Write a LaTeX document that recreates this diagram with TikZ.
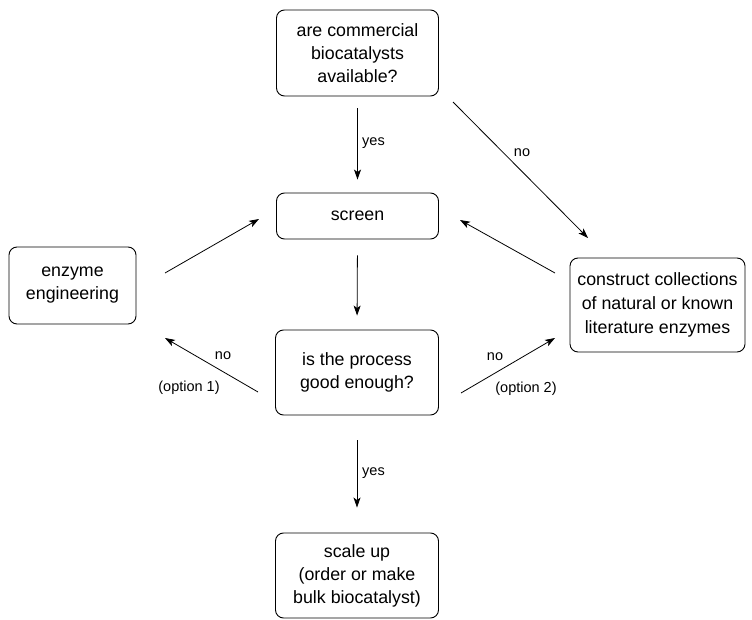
\documentclass[tikz,border=0pt]{standalone}
\usepackage{fontspec}
\setmainfont{Liberation Sans}
\usetikzlibrary{arrows.meta}
\begin{document}
\begin{tikzpicture}[x=1pt,y=-1pt,
  box/.style={draw, rounded corners=8pt, line width=0.9pt, align=center, inner sep=0pt,
    font=\fontsize{17.8}{23}\selectfont},
  arr/.style={line width=0.8pt, -{Stealth[length=10pt,width=7pt,inset=2.5pt]}},
  lbl/.style={font=\fontsize{14.5}{17}\selectfont, inner sep=0pt}]
\useasboundingbox (0,0) rectangle (752,620);
\node[box, minimum width=162pt, minimum height=86pt] (top) at (357.5,53) {are commercial\\biocatalysts\\available?};
\node[box, minimum width=162pt, minimum height=46pt] (screen) at (357.5,216) {screen};
\node[box, minimum width=127pt, minimum height=77pt] (enz) at (72.5,285.5) {enzyme\\engineering};
\node[box, minimum width=175pt, minimum height=94pt, font=\fontsize{17.8}{24}\selectfont] (coll) at (657.5,305) {construct collections\\of natural or known\\literature enzymes};
\node[box, minimum width=163pt, minimum height=85pt] (proc) at (357,372.5) {is the process\\good enough?};
\node[box, minimum width=163pt, minimum height=85pt] (scale) at (357,575.5) {scale up\\(order or make\\bulk biocatalyst)};
% free ends of the diagonal connectors
\coordinate (noS) at (453,102);
\coordinate (noE) at (588,238);
\coordinate (cS) at (555,273);
\coordinate (cE) at (460,220);
\coordinate (eS) at (165,273);
\coordinate (eE) at (259,219);
\coordinate (p1S) at (258,392);
\coordinate (p1E) at (165,338);
\coordinate (p2S) at (461,393);
\coordinate (p2E) at (555,338);
\draw[arr, shorten <=12pt, shorten >=13pt] (top.south) -- (screen.north);
\draw[arr, shorten <=16pt, shorten >=14pt] (screen.south) -- (proc.north);
\draw[arr, shorten <=25pt, shorten >=25pt] (proc.south) -- (scale.north);
\draw[arr] (noS) -- (noE);
\draw[arr] (cS) -- (cE);
\draw[arr] (eS) -- (eE);
\draw[arr] (p1S) -- (p1E);
\draw[arr] (p2S) -- (p2E);
\node[lbl, anchor=west] (y1) at (362,143) {yes};
\node[lbl, anchor=west] (y2) at (362,473) {yes};
\node[lbl] (n0) at (522,153) {no};
\node[lbl] (n1) at (223,356) {no};
\node[lbl] (o1) at (189,388) {(option 1)};
\node[lbl] (n2) at (495,357) {no};
\node[lbl] (o2) at (526,389) {(option 2)};
\end{tikzpicture}
\end{document}
